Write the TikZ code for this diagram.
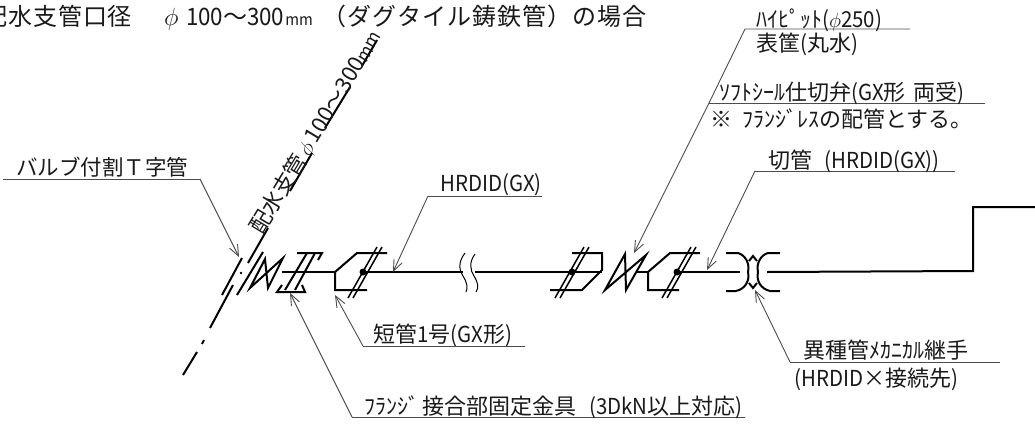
\documentclass[tikz,border=0pt]{standalone}
\usepackage{fontspec}
\usetikzlibrary{arrows.meta}
\newfontfamily\cadfont{Noto Sans CJK JP}
\newfontfamily\cadtitle[LetterSpace=4]{Noto Sans CJK JP}
\newfontfamily\cadnarrow[FakeStretch=0.93]{Noto Sans CJK JP}
\newcommand{\gxlatin}[1]{{\cadnarrow #1}}
\tikzset{
	pipeline/.style={line width=2pt,line join=miter},
	leader/.style={line width=0.9pt,draw=black!70},
	leadertip/.style={leader,-{Straight Barb[length=11pt,width=9pt]}},
	labeltext/.style={inner sep=0pt,anchor=west,text=black!90,font=\cadfont\fontsize{22}{22}\selectfont},
}
\begin{document}
\begin{tikzpicture}[x=1pt,y=-1pt]
	\useasboundingbox (0,0) rectangle (1035,423);
	%Title
	\node [labeltext,font=\cadtitle\fontsize{24}{24}\selectfont] (title) at (-17,18) {配水支管口径\hspace{32pt}\makebox[22pt][l]{$\phi$}\gxlatin{100}～\gxlatin{300}\hspace{1pt}{\cadnarrow\fontsize{16}{16}\selectfont mm}\hspace{10pt}（ダグタイル鋳鉄管）の場合};
	%Branch pipe
	\coordinate (branchTop) at (377,40);
	\coordinate (branchGapA) at (362,66);
	\coordinate (branchGapB) at (350,87);
	\coordinate (branchGapC) at (325,128);
	\coordinate (branchGapD) at (312,153);
	\coordinate (branchGapE) at (290,191);
	\coordinate (branchGapF) at (268,228);
	\coordinate (branchMid) at (248,263);
	\coordinate (branchLow) at (233,285);
	\coordinate (branchEnd) at (210,328);
	\coordinate (branchDotA) at (204,340);
	\coordinate (branchDotB) at (202,344);
	\coordinate (branchTail) at (197,352);
	\coordinate (branchFoot) at (183,375);
	\draw [pipeline] (branchTop) -- (branchGapA);
	\draw [pipeline] (branchGapB) -- (branchGapC);
	\draw [pipeline] (branchGapD) -- (branchGapE);
	\draw [pipeline] (branchGapF) -- (branchMid);
	\draw [pipeline] (branchLow) -- (branchEnd);
	\draw [pipeline] (branchDotA) -- (branchDotB);
	\draw [pipeline] (branchTail) -- (branchFoot);
	\node [labeltext,rotate=59,font=\cadfont\fontsize{22}{22}\selectfont] (branchlabel) at (256,232) {配水支管\hspace{3pt}$\phi$\hspace{3pt}100～300{\cadnarrow\fontsize{18}{18}\selectfont mm}};
	%Saddle strips
	\draw [pipeline] (222,295) -- (242,258);
	\draw [pipeline] (237,295) -- (263,252);
	\fill (241,273) circle (1.3pt);
	%Main pipe
	\coordinate (cornerLow) at (973,271);
	\coordinate (cornerHigh) at (973,207);
	\coordinate (pipeEnd) at (1035,207);
	\draw [pipeline] (282,272) -- (335,272);
	\draw [pipeline] (363,272) -- (463,272);
	\draw [pipeline] (475,272) -- (602,272);
	\draw [pipeline] (636,272) -- (648,272);
	\draw [pipeline] (677,272) -- (740,272);
	\draw [pipeline] (767,272) -- (cornerLow) -- (cornerHigh) -- (pipeEnd);
	%Pipe breaks
	\draw [line width=1pt] (465,253) .. controls (458,262) and (459,270) .. (463,276) .. controls (467,282) and (468,288) .. (466,292);
	\draw [line width=1pt] (475,254) .. controls (469,262) and (470,270) .. (474,276) .. controls (478,282) and (479,288) .. (476,292);
	%Zigzag at the saddle
	\draw [pipeline] (250,288) -- (265,259) -- (268,288) -- (283,258) -- cycle;
	%Flange fixing
	\draw [pipeline] (297,253) -- (322,253) -- (318,260);
	\draw [pipeline] (282,285) -- (277,292) -- (305,292) -- (302,285);
	\draw [pipeline] (285,290) -- (307,253);
	\draw [pipeline] (295,290) -- (315,253);
	%Short pipe
	\draw [pipeline] (367,290) -- (335,290) -- (335,272) -- (357,253) -- (387,253);
	\foreach \x in {348,353} {
		\draw [pipeline,line width=1.5pt] (\x,298) -- (\x+29,247);
	}
	\fill (363,272) circle (3.5pt);
	%Flange piece left of valve
	\draw [pipeline] (572,253) -- (602,253) -- (602,270) -- (582,290) -- (550,290);
	\foreach \x in {555,560} {
		\draw [pipeline,line width=1.5pt] (\x,298) -- (\x+29,247);
	}
	\fill (572,272) circle (3.5pt);
	%Valve
	\draw [pipeline] (605,290) -- (625,254) -- (626,290) -- (646,255) -- cycle;
	%Cut pipe side
	\draw [pipeline] (679,290) -- (648,290) -- (648,272) -- (670,253) -- (700,253);
	\foreach \x in {662,667} {
		\draw [pipeline,line width=1.5pt] (\x,298) -- (\x+29,247);
	}
	\fill (677,272) circle (3.5pt);
	%Mechanical joint
	\draw [pipeline] (726,253) -- (738,253) .. controls (745,255) and (750,263) .. (748,272) .. controls (750,281) and (745,289) .. (736,291) -- (726,291);
	\draw [pipeline] (780,253) -- (768,253) .. controls (761,255) and (756,263) .. (758,272) .. controls (756,281) and (761,289) .. (770,291) -- (780,291);
	\draw [pipeline] (749,261) -- (753,256) -- (757,261);
	\draw [pipeline] (749,283) -- (753,288) -- (757,283);
	%Leader lines
	\coordinate (valveEnd) at (3,179);
	\coordinate (valveKnee) at (200,179);
	\coordinate (valveTip) at (239,257);
	\draw [leader] (valveEnd) -- (valveKnee);
	\draw [leadertip] (valveKnee) -- (valveTip);
	\node [labeltext,font=\cadfont\fontsize{21.5}{21.5}\selectfont] (valvelabel) at (16,167) {バルブ付割Ｔ字管};
	\coordinate (hrdidEnd) at (542,196);
	\coordinate (hrdidKnee) at (428,196);
	\coordinate (hrdidTip) at (393,272);
	\draw [leader] (hrdidEnd) -- (hrdidKnee);
	\draw [leadertip] (hrdidKnee) -- (hrdidTip);
	\node [labeltext] (hrdidlabel) at (440,185) {\gxlatin{HRDID(GX)}};
	\coordinate (shortEnd) at (525,346);
	\coordinate (shortKnee) at (363,346);
	\coordinate (shortTip) at (335,295);
	\draw [leader] (shortEnd) -- (shortKnee);
	\draw [leadertip] (shortKnee) -- (shortTip);
	\node [labeltext] (shortlabel) at (373,335) {短管\gxlatin{1}号\gxlatin{(GX}形\gxlatin{)}};
	\coordinate (fixEnd) at (745,417);
	\coordinate (fixKnee) at (352,417);
	\coordinate (fixTip) at (290,293);
	\draw [leader] (fixEnd) -- (fixKnee);
	\draw [leadertip] (fixKnee) -- (fixTip);
	\node [labeltext] (fixlabel) at (364,407) {ﾌﾗﾝｼﾞ\hspace{3pt}接合部固定金具\hspace{13pt}\gxlatin{(3DkN}以上対応\gxlatin{)}};
	\coordinate (hyEnd) at (910,29);
	\coordinate (hyKnee) at (745,29);
	\coordinate (softEnd) at (985,103);
	\coordinate (softKnee) at (709,103);
	\coordinate (softTip) at (634,253);
	\draw [leader] (hyEnd) -- (hyKnee) -- (softKnee);
	\draw [leader] (softEnd) -- (softKnee);
	\draw [leadertip] (softKnee) -- (softTip);
	\node [labeltext] (hylabel) at (756,20) {ﾊｲﾋﾟｯﾄ\gxlatin{(}$\phi$\gxlatin{250)}};
	\node [labeltext] (boxlabel) at (756,44) {表筐\gxlatin{(}丸水\gxlatin{)}};
	\node [labeltext] (softlabel) at (719,93) {ｿﾌﾄｼｰﾙ仕切弁\gxlatin{(GX}形\hspace{8pt}両受\gxlatin{)}};
	\node [labeltext] (notelabel) at (710,119) {※\hspace{10pt}ﾌﾗﾝｼﾞﾚｽの配管とする。};
	\coordinate (cutEnd) at (955,171);
	\coordinate (cutKnee) at (755,171);
	\coordinate (cutTip) at (707,270);
	\draw [leader] (cutEnd) -- (cutKnee);
	\draw [leadertip] (cutKnee) -- (cutTip);
	\node [labeltext] (cutlabel) at (768,161) {切管\hspace{12pt}\gxlatin{(HRDID(GX))}};
	\coordinate (jointEnd) at (1000,362);
	\coordinate (jointKnee) at (790,362);
	\coordinate (jointTip) at (755,290);
	\draw [leader] (jointEnd) -- (jointKnee);
	\draw [leadertip] (jointKnee) -- (jointTip);
	\node [labeltext] (jointlabel) at (803,350) {異種管ﾒｶﾆｶﾙ継手};
	\node [labeltext] (connectlabel) at (794,379) {\gxlatin{(HRDID}×接続先\gxlatin{)}};
\end{tikzpicture}
\end{document}
